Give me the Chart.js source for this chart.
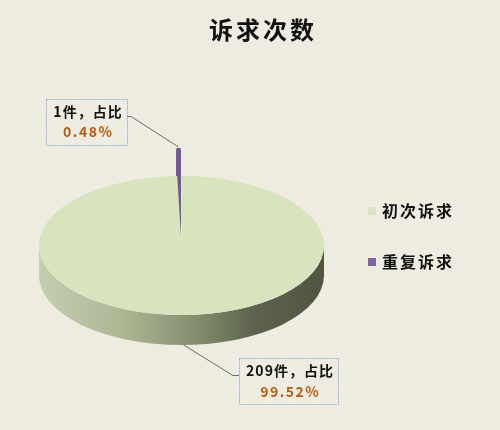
<!DOCTYPE html>
<html>
<head>
<meta charset="utf-8">
<script src="https://cdn.jsdelivr.net/npm/chart.js@4.4.1/dist/chart.umd.min.js"></script>
<style>
    body { margin: 0; background: #EEECE1; }
    #wrap { width: 500px; height: 430px; position: relative; }
</style>
</head>
<body>
<div id="wrap"><canvas id="pieChart"></canvas></div>
<script>
// Chart data
const chartTitle = '诉求次数';
const categories = ['初次诉求', '重复诉求'];
const counts = [209, 1];
const sliceColors = ['#D7E4BD', '#8064A2'];
const sliceOffsets = [0, 121];

// 3D look
const TILT = 0.4877;   // vertical squash of the pie face
const DEPTH = 30;      // thickness of the pie in px
const FONT = '"Noto Sans CJK SC", "Noto Sans", sans-serif';

const total = counts.reduce((a, b) => a + b, 0);

function arcGeometry(arc) {
    const p = arc.getProps(['x', 'y', 'startAngle', 'endAngle', 'outerRadius'], true);
    const circ = p.endAngle - p.startAngle;
    const mid = (p.startAngle + p.endAngle) / 2;
    // same shift the arc element applies for its offset
    const off = (arc.options.offset || 0) / 4;
    const shift = off + off * (1 - Math.sin(Math.min(Math.PI, circ)));
    return {
        ...p, mid,
        dx: Math.cos(mid) * shift,
        dy: Math.sin(mid) * shift * TILT
    };
}

function drawSide(ctx, arc, index) {
    const g = arcGeometry(arc);
    const cx = g.x + g.dx, cy = g.y + g.dy, R = g.outerRadius, r = R * TILT;
    ctx.save();
    if (index === 0) {
        const grad = ctx.createLinearGradient(cx - R, 0, cx + R, 0);
        grad.addColorStop(0, '#C6CEB0');
        grad.addColorStop(0.3, '#ACB693');
        grad.addColorStop(0.55, '#858F6E');
        grad.addColorStop(0.75, '#5D634C');
        grad.addColorStop(1, '#50553F');
        ctx.fillStyle = grad;
        [0, 2 * Math.PI].forEach(base => {
            const a0 = Math.max(g.startAngle, base);
            const a1 = Math.min(g.endAngle, base + Math.PI);
            if (a1 <= a0) return;
            ctx.beginPath();
            ctx.ellipse(cx, cy, R, r, 0, a0, a1);
            ctx.ellipse(cx, cy + DEPTH, R, r, 0, a1, a0, true);
            ctx.closePath();
            ctx.fill();
        });
    } else {
        ctx.fillStyle = '#74599A';
        for (let z = DEPTH; z > 0; z--) {
            ctx.beginPath();
            ctx.moveTo(cx, cy + z);
            ctx.ellipse(cx, cy + z, R, r, 0, g.startAngle, g.endAngle);
            ctx.closePath();
            ctx.fill();
        }
    }
    ctx.restore();
}

function drawLabelBox(ctx, box, lines) {
    ctx.save();
    ctx.fillStyle = '#EEECE1';
    ctx.fillRect(box.x, box.y, box.w, box.h);
    ctx.strokeStyle = '#95B3D7';
    ctx.lineWidth = 1;
    ctx.setLineDash([2, 1]);
    ctx.strokeRect(box.x + 0.5, box.y + 0.5, box.w, box.h);
    ctx.setLineDash([]);
    ctx.textAlign = 'left';
    ctx.textBaseline = 'middle';
    lines.forEach(line => {
        ctx.font = line.font;
        ctx.letterSpacing = line.spacing;
        const w = ctx.measureText(line.text).width - parseFloat(line.spacing);
        ctx.fillStyle = line.color;
        ctx.fillText(line.text, box.x + box.w / 2 - w / 2 + 1, line.y);
    });
    ctx.restore();
}

function drawLeader(ctx, points) {
    ctx.save();
    ctx.strokeStyle = '#6B6B6B';
    ctx.lineWidth = 1;
    ctx.beginPath();
    points.forEach((p, i) => i ? ctx.lineTo(p[0], p[1]) : ctx.moveTo(p[0], p[1]));
    ctx.stroke();
    ctx.restore();
}

const pie3d = {
    id: 'pie3d',
    beforeDatasetsDraw(chart) {
        const ctx = chart.ctx;
        const arcs = chart.getDatasetMeta(0).data;
        arcs.forEach((arc, i) => drawSide(ctx, arc, i));
        const {x, y} = arcs[0];
        ctx.save();
        ctx.translate(x, y);
        ctx.scale(1, TILT);
        ctx.translate(-x, -y);
    },
    afterDatasetsDraw(chart) {
        const ctx = chart.ctx;
        ctx.restore();
        const arcs = chart.getDatasetMeta(0).data;

        // data labels with leader lines
        const bold = 'bold 14px ' + FONT;
        const pctColor = '#B65C10';

        const gRep = arcGeometry(arcs[1]);
        const tipRep = [gRep.x + gRep.dx + Math.cos(gRep.mid) * gRep.outerRadius,
                        gRep.y + gRep.dy + Math.sin(gRep.mid) * gRep.outerRadius * TILT];
        drawLeader(ctx, [[127, 116.5], [131, 116.5], tipRep]);
        drawLabelBox(ctx, {x: 46, y: 99, w: 81, h: 46}, [
            {text: counts[1] + '件，占比', font: bold, spacing: '1px', color: '#111', y: 112},
            {text: (counts[1] / total * 100).toFixed(2) + '%', font: bold, spacing: '1.5px', color: pctColor, y: 132}
        ]);

        const gFirst = arcGeometry(arcs[0]);
        const tipFirst = [gFirst.x + Math.cos(gFirst.mid) * gFirst.outerRadius,
                          gFirst.y + Math.sin(gFirst.mid) * gFirst.outerRadius * TILT + DEPTH];
        drawLeader(ctx, [tipFirst, [233, 375.5], [239, 375.5]]);
        drawLabelBox(ctx, {x: 239, y: 358, w: 99, h: 46}, [
            {text: counts[0] + '件，占比', font: bold, spacing: '1px', color: '#111', y: 371},
            {text: (counts[0] / total * 100).toFixed(2) + '%', font: bold, spacing: '1.5px', color: pctColor, y: 392}
        ]);
    },
    afterDraw(chart) {
        const ctx = chart.ctx;
        ctx.save();
        // title
        ctx.font = 'bold 24px ' + FONT;
        ctx.letterSpacing = '3px';
        ctx.fillStyle = '#111';
        ctx.textBaseline = 'middle';
        ctx.fillText(chartTitle, 209, 30);
        // legend
        ctx.font = 'bold 16px ' + FONT;
        ctx.letterSpacing = '2px';
        categories.forEach((name, i) => {
            const y = 211 + i * 51;
            ctx.fillStyle = sliceColors[i];
            ctx.fillRect(368, y - 4, 8, 8);
            ctx.fillStyle = '#111';
            ctx.fillText(name, 382, y);
        });
        ctx.restore();
    }
};

const pieChart = new Chart(document.getElementById('pieChart').getContext('2d'), {
    type: 'pie',
    data: {
        labels: categories,
        datasets: [{
            data: counts,
            backgroundColor: sliceColors,
            borderWidth: 0,
            offset: sliceOffsets,
            clip: false
        }]
    },
    options: {
        responsive: true,
        maintainAspectRatio: false,
        animation: false,
        events: [],
        radius: 142.5,
        layout: {
            padding: {left: 39, right: 176, top: 100, bottom: 39}
        },
        plugins: {
            legend: {display: false},
            title: {display: false},
            tooltip: {enabled: false}
        }
    },
    plugins: [pie3d]
});
</script>
</body>
</html>
